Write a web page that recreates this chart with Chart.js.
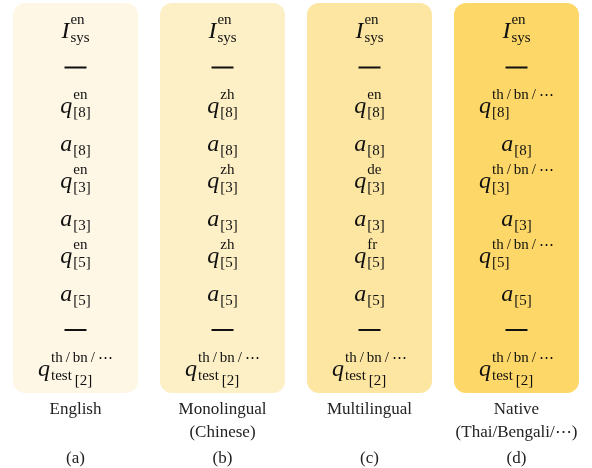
<!DOCTYPE html>
<html><head><meta charset="utf-8">
<script src="https://cdn.jsdelivr.net/npm/chart.js@4"></script>
<style>html,body{margin:0;background:#fff}</style></head>
<body><canvas id="c" width="592" height="468"></canvas>
<script>
const categories = ['English', 'Monolingual', 'Multilingual', 'Native'];
const labelLine2 = ['', '(Chinese)', '', '(Thai/Bengali/\u22EF)'];
const tags = ['(a)', '(b)', '(c)', '(d)'];
const boxColors = ['#FEF7E6', '#FDEFC6', '#FDE6A2', '#FDD767'];
const boxSpan = [0, 10.4];
const nat = 'th\u2009/\u2009bn\u2009/\u2009\u22EF';
const qSup = [['en','en','en'],['zh','zh','zh'],['en','de','fr'],[nat,nat,nat]];
const shots = ['8','3','5'];
function rowsFor(i){
  const r = [['I','en','sys'],['—']];
  shots.forEach((s,k)=>{ r.push(['q',qSup[i][k],'['+s+']']); r.push(['a','','['+s+']']); });
  r.push(['—']); r.push(['q',nat,'test','[2]']);
  return r;
}
const F = '"Liberation Serif", "DejaVu Serif", serif';
function drawMath(ctx, cx, cy, row){
  if (row[0]==='—'){ ctx.fillRect(cx-11, cy-1, 22, 2); return; }
  const [b, sup, sub, sub2] = row;
  ctx.font = 'italic 24px '+F; const bw = ctx.measureText(b).width;
  ctx.font = '15px '+F;
  const sw = sup ? ctx.measureText(sup).width : 0;
  let subw = sub ? ctx.measureText(sub).width : 0;
  if (sub2) subw += 3 + ctx.measureText(sub2).width;
  const w = bw + 1 + Math.max(sw, subw);
  let x = cx - w/2;
  ctx.textBaseline = 'alphabetic'; ctx.textAlign = 'left';
  ctx.font = 'italic 24px '+F; ctx.fillText(b, x, cy+8);
  x += bw + 1;
  ctx.font = '15px '+F;
  if (sup) ctx.fillText(sup, x, cy-6);
  if (sub){ ctx.fillText(sub, x, cy+12);
    if (sub2) ctx.fillText(sub2, x + ctx.measureText(sub).width + 3, cy+17); }
}
const textPlugin = {
  id:'txt',
  afterDatasetsDraw(chart){
    const ctx = chart.ctx, xs = chart.scales.x, ys = chart.scales.y;
    ctx.save(); ctx.fillStyle = '#111';
    categories.forEach((c,i)=>{
      const cx = xs.getPixelForValue(i);
      rowsFor(i).forEach((r,k)=> drawMath(ctx, cx, ys.getPixelForValue(0.72+k), r));
      ctx.font = '17px '+F; ctx.textAlign='center'; ctx.textBaseline='middle';
      ctx.fillStyle = '#222';
      ctx.fillText(c, cx, 410);
      if (labelLine2[i]) ctx.fillText(labelLine2[i], cx, 433);
      ctx.fillText(tags[i], cx, 459);
      ctx.fillStyle = '#111';
    });
    ctx.restore();
  }
};
new Chart(document.getElementById('c'), {
  type:'bar',
  data:{ labels: categories, datasets:[{ data: categories.map(()=>boxSpan),
    backgroundColor: boxColors, borderRadius: 12, borderSkipped:false,
    categoryPercentage: 0.85, barPercentage: 1 }]},
  options:{ responsive:false, animation:false,
    layout:{ padding:{ left:2, right:2, top:3, bottom:75 } },
    plugins:{ legend:{display:false}, tooltip:{enabled:false} },
    scales:{ x:{ display:false }, y:{ display:false, reverse:true, min:0, max:10.4 } } },
  plugins:[textPlugin]
});
</script></body></html>
